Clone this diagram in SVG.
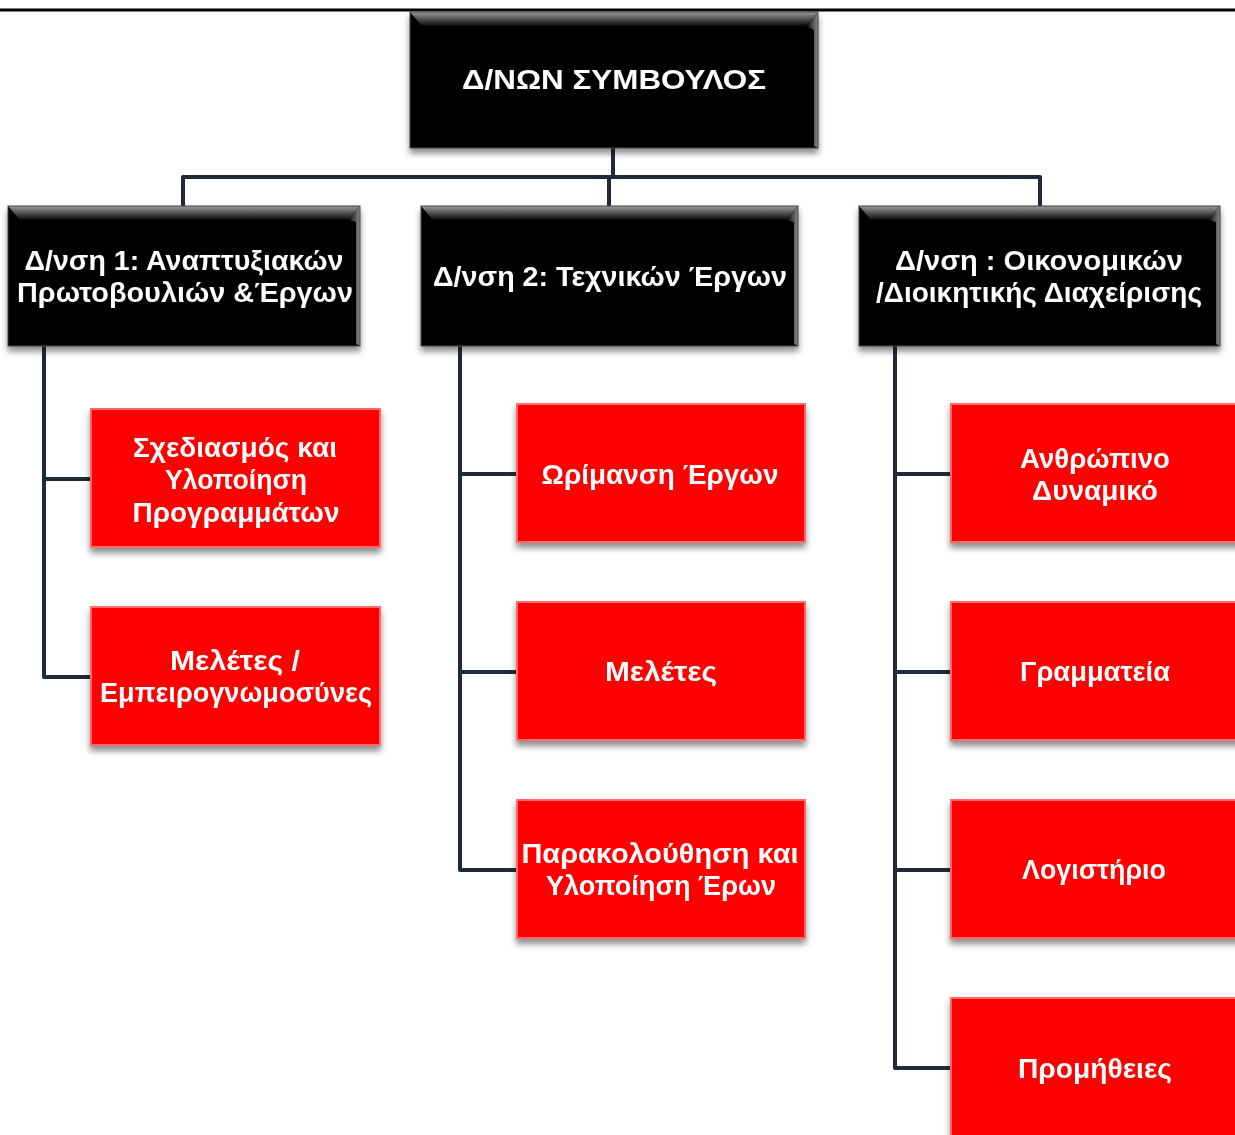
<svg xmlns="http://www.w3.org/2000/svg" width="1235" height="1135" viewBox="0 0 1235 1135">
<style>
.t{font-family:"Liberation Sans","DejaVu Sans",sans-serif;font-weight:bold;font-size:27px;fill:#ffffff;text-anchor:middle}
.con{stroke:#1f2937;stroke-width:4;fill:none;stroke-linejoin:round;stroke-linecap:round}
.blk{fill:#000000}
.red{fill:#ff0000}
.redEdge{fill:none;stroke:#ff6a6a;stroke-width:2}
</style>
<defs>
<filter id="sh" x="-10%" y="-10%" width="120%" height="130%">
<feDropShadow dx="0" dy="5" stdDeviation="3" flood-color="#000" flood-opacity="0.45"/>
</filter>
<linearGradient id="bevTop" x1="0" y1="0" x2="0" y2="1">
<stop offset="0" stop-color="#9a9a9a"/>
<stop offset="1" stop-color="#0a0a0a"/>
</linearGradient>
<linearGradient id="bevSide" x1="0" y1="0" x2="1" y2="0">
<stop offset="0" stop-color="#000"/>
<stop offset="1" stop-color="#8a8a8a"/>
</linearGradient>
</defs>
<rect width="1235" height="1135" fill="#ffffff"/>
<line x1="0" y1="10" x2="1235" y2="10" stroke="#000" stroke-width="3"/>

<g id="connectors">
<path class="con" d="M613 148 V177 M183 206 V177 H1040 V206 M609 177 V206"/>
<path class="con" d="M44 346 V677 H90 M44 479 H90"/>
<path class="con" d="M460 346 V870 H516 M460 474 H516 M460 672 H516"/>
<path class="con" d="M895 346 V1068 H950 M895 474 H950 M895 672 H950 M895 870 H950"/>
</g>

<g id="n0" filter="url(#sh)">
<rect class="blk" x="410" y="12" width="408" height="136"/>
<polygon points="410,12 818,12 806,26 422,26" fill="url(#bevTop)"/>
<polygon points="806,26 818,12 818,148 814,146 814,30" fill="url(#bevSide)"/>
<rect x="410" y="12" width="408" height="136" fill="none" stroke="#444" stroke-width="1"/>
<text class="t" x="614" y="89" font-size="28" textLength="304" lengthAdjust="spacingAndGlyphs">Δ/ΝΩΝ ΣΥΜΒΟΥΛΟΣ</text>
</g>

<g id="n1" filter="url(#sh)">
<rect class="blk" x="8" y="206" width="352" height="140"/>
<polygon points="8,206 360,206 348,220 20,220" fill="url(#bevTop)"/>
<polygon points="348,220 360,206 360,346 356,344 356,222" fill="url(#bevSide)"/>
<rect x="8" y="206" width="352" height="140" fill="none" stroke="#444" stroke-width="1"/>
<text class="t" x="184" y="270" textLength="319" lengthAdjust="spacingAndGlyphs">Δ/νση 1: Αναπτυξιακών</text>
<text class="t" x="185" y="302" textLength="336" lengthAdjust="spacingAndGlyphs">Πρωτοβουλιών &amp;Έργων</text>
</g>

<g id="n2" filter="url(#sh)">
<rect class="blk" x="421" y="206" width="377" height="140"/>
<polygon points="421,206 798,206 786,220 433,220" fill="url(#bevTop)"/>
<polygon points="786,220 798,206 798,346 794,344 794,222" fill="url(#bevSide)"/>
<rect x="421" y="206" width="377" height="140" fill="none" stroke="#444" stroke-width="1"/>
<text class="t" x="610" y="286" textLength="354" lengthAdjust="spacingAndGlyphs">Δ/νση 2: Τεχνικών Έργων</text>
</g>

<g id="n3" filter="url(#sh)">
<rect class="blk" x="859" y="206" width="361" height="140"/>
<polygon points="859,206 1220,206 1208,220 871,220" fill="url(#bevTop)"/>
<polygon points="1208,220 1220,206 1220,346 1216,344 1216,222" fill="url(#bevSide)"/>
<rect x="859" y="206" width="361" height="140" fill="none" stroke="#444" stroke-width="1"/>
<text class="t" x="1039" y="270" textLength="288" lengthAdjust="spacingAndGlyphs">Δ/νση : Οικονομικών</text>
<text class="t" x="1039" y="302" textLength="326" lengthAdjust="spacingAndGlyphs">/Διοικητικής Διαχείρισης</text>
</g>

<g id="c11" filter="url(#sh)">
<rect class="red" x="90" y="408" width="291" height="140"/>
<rect class="redEdge" x="91" y="409" width="289" height="138"/>
<text class="t" x="235" y="457" textLength="204" lengthAdjust="spacingAndGlyphs">Σχεδιασμός και</text>
<text class="t" x="236" y="489" textLength="142" lengthAdjust="spacingAndGlyphs">Υλοποίηση</text>
<text class="t" x="236" y="522" textLength="207" lengthAdjust="spacingAndGlyphs">Προγραμμάτων</text>
</g>

<g id="c12" filter="url(#sh)">
<rect class="red" x="90" y="606" width="291" height="140"/>
<rect class="redEdge" x="91" y="607" width="289" height="138"/>
<text class="t" x="235" y="670" textLength="130" lengthAdjust="spacingAndGlyphs">Μελέτες /</text>
<text class="t" x="236" y="702" textLength="272" lengthAdjust="spacingAndGlyphs">Εμπειρογνωμοσύνες</text>
</g>

<g id="c21" filter="url(#sh)">
<rect class="red" x="516" y="403" width="290" height="140"/>
<rect class="redEdge" x="517" y="404" width="288" height="138"/>
<text class="t" x="660" y="484" textLength="237" lengthAdjust="spacingAndGlyphs">Ωρίμανση Έργων</text>
</g>

<g id="c22" filter="url(#sh)">
<rect class="red" x="516" y="601" width="290" height="140"/>
<rect class="redEdge" x="517" y="602" width="288" height="138"/>
<text class="t" x="661" y="681" textLength="112" lengthAdjust="spacingAndGlyphs">Μελέτες</text>
</g>

<g id="c23" filter="url(#sh)">
<rect class="red" x="516" y="799" width="290" height="140"/>
<rect class="redEdge" x="517" y="800" width="288" height="138"/>
<text class="t" x="660" y="863" textLength="277" lengthAdjust="spacingAndGlyphs">Παρακολούθηση και</text>
<text class="t" x="661" y="895" textLength="230" lengthAdjust="spacingAndGlyphs">Υλοποίηση Έρων</text>
</g>

<g id="c31" filter="url(#sh)">
<rect class="red" x="950" y="403" width="295" height="140"/>
<rect class="redEdge" x="951" y="404" width="293" height="138"/>
<text class="t" x="1095" y="468" textLength="150" lengthAdjust="spacingAndGlyphs">Ανθρώπινο</text>
<text class="t" x="1095" y="500" textLength="126" lengthAdjust="spacingAndGlyphs">Δυναμικό</text>
</g>

<g id="c32" filter="url(#sh)">
<rect class="red" x="950" y="601" width="295" height="140"/>
<rect class="redEdge" x="951" y="602" width="293" height="138"/>
<text class="t" x="1095" y="681" textLength="150" lengthAdjust="spacingAndGlyphs">Γραμματεία</text>
</g>

<g id="c33" filter="url(#sh)">
<rect class="red" x="950" y="799" width="295" height="140"/>
<rect class="redEdge" x="951" y="800" width="293" height="138"/>
<text class="t" x="1094" y="879" textLength="144" lengthAdjust="spacingAndGlyphs">Λογιστήριο</text>
</g>

<g id="c34" filter="url(#sh)">
<rect class="red" x="950" y="997" width="295" height="150"/>
<rect class="redEdge" x="951" y="998" width="293" height="148"/>
<text class="t" x="1095" y="1078" textLength="154" lengthAdjust="spacingAndGlyphs">Προμήθειες</text>
</g>
</svg>
